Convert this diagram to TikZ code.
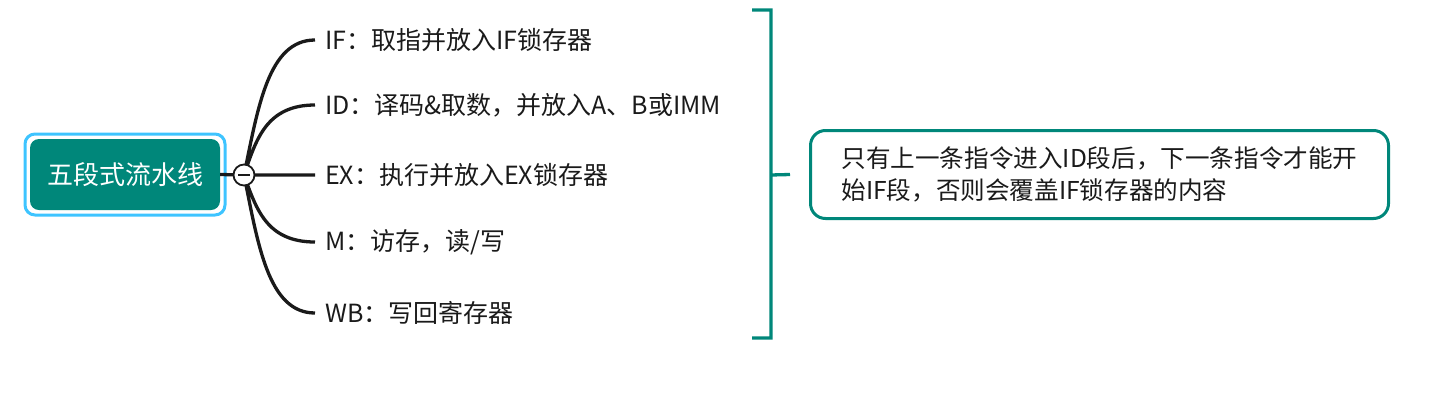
\documentclass[tikz,border=0pt]{standalone}
\usepackage{fontspec}
\setmainfont{Noto Sans CJK SC}
\usetikzlibrary{arrows,shapes}
\definecolor{mapteal}{HTML}{00877A}
\definecolor{selblue}{HTML}{3EC4FF}
\definecolor{ink}{HTML}{1A1A1A}
\tikzstyle{topic} = [rectangle, fill=mapteal, text=white, rounded corners=9pt,
    minimum width=190pt, minimum height=71pt, font=\fontsize{26}{30}\selectfont]
\tikzstyle{halo} = [rectangle, draw=selblue, line width=3pt, rounded corners=10pt,
    minimum width=200pt, minimum height=81pt]
\tikzstyle{sub} = [anchor=west, inner xsep=10pt, inner ysep=0pt, text=ink,
    font=\fontsize{25}{29}\selectfont]
\tikzstyle{branch} = [draw=ink, line width=3.3pt]
\tikzstyle{foldbtn} = [circle, draw=ink, fill=white, line width=1.8pt,
    minimum size=21pt, inner sep=0pt]
\tikzstyle{summary} = [draw=mapteal, line width=3.3pt]
\tikzstyle{remark} = [rectangle, draw=mapteal, line width=3pt, rounded corners=15pt,
    minimum width=578pt, minimum height=88pt, align=left, text=ink,
    font=\fontsize{24.6}{32}\selectfont]

\begin{document}
\begin{tikzpicture}[x=1pt,y=-1pt]
  \useasboundingbox (0,0) rectangle (1429,402);

  \node[halo]  (sel)  at (125,174.5) {};
  \node[topic] (root) at (125,174.5) {五段式流水线};
  \coordinate (hub) at (244,175);

  \node[sub] (if) at (315,40)  {IF：取指并放入IF锁存器};
  \node[sub] (id) at (315,105) {ID：译码\&取数，并放入A、B或IMM};
  \node[sub] (ex) at (315,175) {EX：执行并放入EX锁存器};
  \node[sub] (m)  at (315,242) {M：访存，读/写};
  \node[sub] (wb) at (315,313) {WB：写回寄存器};

  \path[branch] (root.east) -- (hub)
        (hub) .. controls (258,108) and (268,40) .. (if.west)
        (hub) .. controls (256,140) and (266,105) .. (id.west)
        (hub) -- (ex.west)
        (hub) .. controls (256,208) and (266,242) .. (m.west)
        (hub) .. controls (258,244) and (268,313) .. (wb.west);

  \node[foldbtn] (fold) at (hub) {};
  \draw[ink, line width=1.8pt] ([xshift=-6pt]fold.center) -- ([xshift=6pt]fold.center);

  % summary bracket
  \coordinate (brtop) at (771,10);
  \coordinate (brbot) at (771,338);
  \coordinate (brmid) at (771,175);
  \node[remark] (note) at (1099.5,174.5)
    {只有上一条指令进入ID段后，下一条指令才能开\\始IF段，否则会覆盖IF锁存器的内容};

  \path[summary] ([xshift=-19pt]brtop) -- (brtop) -- (brbot) -- ([xshift=-19pt]brbot)
        (brmid) -- ([xshift=-19pt]note.west);
\end{tikzpicture}
\end{document}
